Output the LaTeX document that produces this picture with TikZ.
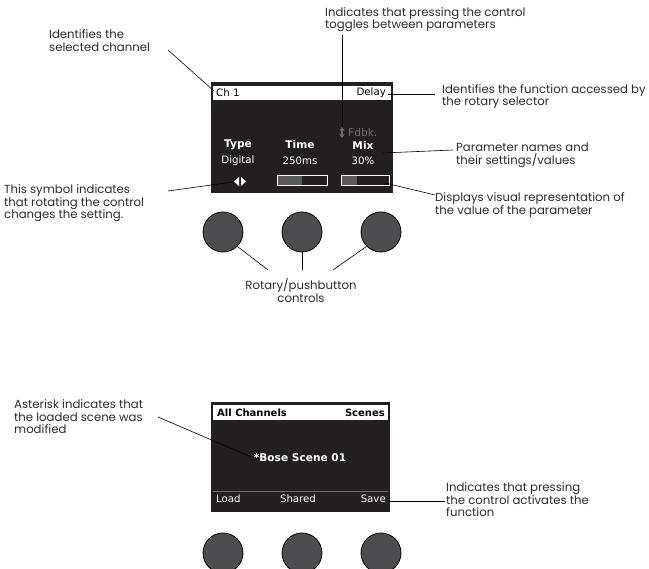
\documentclass[tikz,border=0pt]{standalone}
\usepackage{fontspec}
\setmainfont{Poppins}
\newfontfamily\scrfont{DejaVu Sans}
\usetikzlibrary{arrows.meta}
\definecolor{labelc}{HTML}{2B2B2B}
\definecolor{scrc}{HTML}{231F20}
\definecolor{knobc}{HTML}{4D4D4F}
\definecolor{barc}{HTML}{58595B}
\definecolor{fdbkc}{HTML}{6D6E71}
\tikzset{
  lbl/.style={anchor=base west, inner sep=0, align=left, text=labelc, font=\fontsize{11.7}{12.8}\selectfont},
  scrtxt/.style={inner sep=0, text=white, font=\scrfont\fontsize{10.2}{11}\selectfont},
  scrbold/.style={scrtxt, font=\scrfont\bfseries\fontsize{10}{11}\selectfont},
  screenbox/.style={fill=scrc, draw=none, inner sep=0},
  knob/.style={circle, draw=black, line width=0.8pt, fill=knobc, minimum size=40pt, inner sep=0},
  callout/.style={draw=black, line width=0.6pt},
  valbar/.style={draw=white, line width=0.8pt, minimum width=50pt, minimum height=10pt, inner sep=0}
}
\begin{document}
\begin{tikzpicture}[x=1pt,y=-1pt]
\useasboundingbox (0,0) rectangle (649,569);
\clip (0,0) rectangle (649,569);

% ---------- top screen ----------
\node[screenbox, minimum width=182pt, minimum height=111pt] (scr1) at (302,137.5) {};
\node[fill=white, inner sep=0, minimum width=178pt, minimum height=14pt] (bar1) at (302,93) {};
\node[scrtxt, text=black, anchor=west] (ch) at (216,93) {Ch 1};
\node[scrtxt, text=black, anchor=east] (delay) at (386,93) {Delay};
\draw[fdbkc, line width=1.2pt, {Triangle[width=5pt,length=3.5pt]}-{Triangle[width=5pt,length=3.5pt]}] (342,127) coordinate (tgtop) -- (342,138) coordinate (tgbot);
\node[scrtxt, text=fdbkc, anchor=west, font=\scrfont\fontsize{10.6}{11}\selectfont] (fdbk) at (348,132.5) {Fdbk.};
\node[scrbold, font=\scrfont\bfseries\fontsize{10.6}{11}\selectfont] (type) at (238,145) {Type};
\node[scrbold, font=\scrfont\bfseries\fontsize{10.6}{11}\selectfont] (time) at (300,145) {Time};
\node[scrbold, font=\scrfont\bfseries\fontsize{10.6}{11}\selectfont] (mix) at (363,145) {Mix};
\node[scrtxt] (digital) at (238,161) {Digital};
\node[scrtxt] (ms) at (300,161) {250ms};
\node[scrtxt] (pct) at (363,161) {30\%};
\fill[white] (239,177) -- (239,186) -- (234,181.5) -- cycle;
\fill[white] (241,177) -- (241,186) -- (246,181.5) -- cycle;
\coordinate (rot) at (233,182);
\fill[barc] (277,175.5) rectangle (302,185.5);
\node[valbar] (vb1) at (302,180.5) {};
\fill[barc] (341,175.5) rectangle (357,185.5);
\node[valbar, minimum width=48pt] (vb2) at (365,180.5) {};

% knobs top
\node[knob] (k1) at (223,232) {};
\node[knob] (k2) at (302,232) {};
\node[knob] (k3) at (381,232) {};

% labels top (anchor = baseline of last line)
\node[lbl] (l1) at (325,29) {Indicates that pressing the control\\toggles between parameters};
\node[lbl] (l2) at (49,51.5) {Identifies the\\selected channel};
\node[lbl] (l3) at (4,219) {This symbol indicates\\that rotating the control\\changes the setting.};
\node[lbl] (l4) at (442,106) {Identifies the function accessed by\\the rotary selector};
\node[lbl] (l5) at (456,164.5) {Parameter names and\\their settings/values};
\node[lbl] (l6) at (435,214.5) {Displays visual representation of\\the value of the parameter};
\node[lbl, anchor=base, align=center] (l7) at (301,302.5) {Rotary/pushbutton\\controls};

% callouts top
\draw[callout] (342,35) coordinate (c1a) -- (tgtop);
\draw[callout] (168,50) coordinate (c2a) -- (214,91) coordinate (c2b);
\draw[callout] (168,191) coordinate (c3a) -- (rot);
\draw[callout] (388,94) coordinate (c4a) -- (435,94) coordinate (c4b);
\draw[callout] (383,153) coordinate (c5a) -- (453,150) coordinate (c5b);
\draw[callout] (385,183) coordinate (c6a) -- (435,195) coordinate (c6b);
\coordinate (kc1) at (268,270);
\coordinate (kc2) at (302,270);
\coordinate (kc3) at (333,270);
\draw[callout] (k1.-45) -- (kc1);
\draw[callout] (k2.south) -- (kc2);
\draw[callout] (k3.-135) -- (kc3);

% ---------- bottom screen ----------
\node[screenbox, minimum width=179pt, minimum height=110pt] (scr2) at (300.5,457) {};
\node[fill=white, inner sep=0, minimum width=175pt, minimum height=15pt] (bar2) at (300.5,412.5) {};
\node[scrbold, text=black, anchor=west] (allch) at (217,412.5) {All Channels};
\node[scrbold, text=black, anchor=east] (scenes) at (385,412.5) {Scenes};
\node[scrbold, font=\scrfont\bfseries\fontsize{10.6}{12}\selectfont] (scene) at (300,458) {*Bose Scene 01};
\draw[fdbkc, line width=0.8pt] (213,491) -- (388,491);
\node[scrtxt, anchor=west] (load) at (216,498.5) {Load};
\node[scrtxt] (shared) at (298,498.5) {Shared};
\node[scrtxt, anchor=east] (save) at (386,498.5) {Save};

\node[knob] (k4) at (223,553) {};
\node[knob] (k5) at (302,553) {};
\node[knob] (k6) at (381,553) {};

\node[lbl] (l8) at (14,434) {Asterisk indicates that\\the loaded scene was\\modified};
\node[lbl] (l9) at (446,517) {Indicates that pressing\\the control activates the\\function};
\draw[callout] (158,417) coordinate (c8a) -- (scene.west);
\draw[callout] (389,501.5) coordinate (c9a) -- (445,501.5) coordinate (c9b);
\end{tikzpicture}
\end{document}
